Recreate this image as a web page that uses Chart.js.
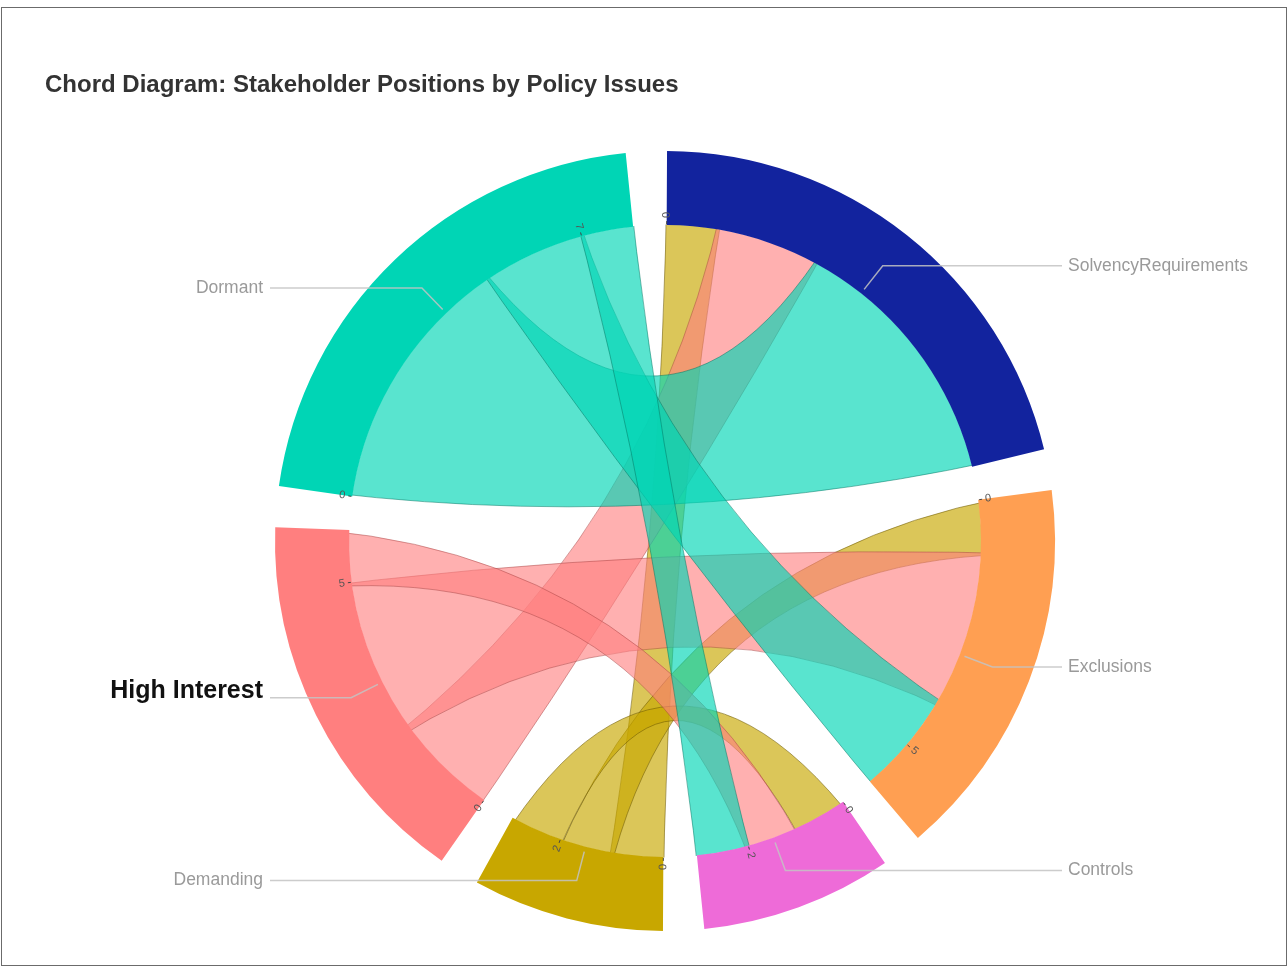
<!DOCTYPE html>
<html>
<head>
<meta charset="utf-8">
<title>Chord Diagram: Stakeholder Positions by Policy Issues</title>
<script src="https://cdn.jsdelivr.net/npm/chart.js@4.4.1/dist/chart.umd.min.js"></script>
<style>
  html, body { margin: 0; padding: 0; background: #fff; }
  canvas { display: block; }
</style>
</head>
<body>
<canvas id="chordChart" width="1288" height="967"></canvas>
<script>
'use strict';

// policy issues (columns) and stakeholder positions (rows)
var issues = ['SolvencyRequirements', 'Exclusions', 'Controls'];
var stakeholders = ['Demanding', 'High Interest', 'Dormant'];

// links per stakeholder, one value per issue
var demanding = [1, 1, 1];
var highInterest = [2, 3, 1];
var dormant = [5, 2, 1];

// tick labels along each arc
var issueTicks = [[0], [0, 5], [0, 2]];
var stakeholderTicks = [[0, 2], [0, 5], [0, 7]];

var issueColors = ['#12239E', '#FF9F52', '#EE6BD8'];
var stakeholderColors = ['#C8A700', '#FF7F7F', '#00D5B5'];
var ribbonFills = ['rgba(200, 167, 0, 0.65)', 'rgba(255, 127, 127, 0.62)', 'rgba(0, 213, 181, 0.65)'];
var ribbonEdges = ['rgba(110, 90, 0, 0.55)', 'rgba(170, 70, 70, 0.5)', 'rgba(0, 120, 100, 0.5)'];

var GAP = 0.64; // empty slice between groups, in link units

var rows = [demanding, highInterest, dormant];
var groupNames = issues.concat(stakeholders);
var groupColors = issueColors.concat(stakeholderColors);
var groupTicks = issueTicks.concat(stakeholderTicks);

// totals per group: issues sum a column, stakeholders sum a row
var totals = issues.map(function (name, j) {
    return rows.reduce(function (s, row) { return s + row[j]; }, 0);
}).concat(rows.map(function (row) {
    return row.reduce(function (s, v) { return s + v; }, 0);
}));

// ring values with a transparent spacer after every group
var ringValues = [], ringColors = [], ringLabels = [];
totals.forEach(function (t, g) {
    ringValues.push(t, GAP);
    ringColors.push(groupColors[g], 'rgba(0,0,0,0)');
    ringLabels.push(groupNames[g], '');
});

function ribbonPath(ctx, cx, cy, r, s0, s1, t0, t1) {
    ctx.beginPath();
    ctx.moveTo(cx + r * Math.cos(s0), cy + r * Math.sin(s0));
    ctx.arc(cx, cy, r, s0, s1);
    ctx.quadraticCurveTo(cx, cy, cx + r * Math.cos(t0), cy + r * Math.sin(t0));
    ctx.arc(cx, cy, r, t0, t1);
    ctx.quadraticCurveTo(cx, cy, cx + r * Math.cos(s0), cy + r * Math.sin(s0));
    ctx.closePath();
}

function groupGeometry(chart) {
    var arcs = chart.getDatasetMeta(0).data;
    var els = groupNames.map(function (n, g) { return arcs[g * 2]; });
    var units = els.map(function (el, g) { return (el.endAngle - el.startAngle) / totals[g]; });
    return { els: els, units: units, cx: els[0].x, cy: els[0].y, inner: els[0].innerRadius, outer: els[0].outerRadius };
}

var chordPlugin = {
    id: 'chordRibbons',
    beforeDraw: function (chart) {
        var ctx = chart.ctx;
        ctx.save();
        ctx.strokeStyle = '#6b6b6b';
        ctx.lineWidth = 1;
        ctx.strokeRect(1.5, 7.5, 1285, 958);
        ctx.fillStyle = '#333';
        ctx.font = 'bold 24px "Liberation Sans", Arial, sans-serif';
        ctx.textBaseline = 'middle';
        ctx.fillText('Chord Diagram: Stakeholder Positions by Policy Issues', 45, 85);
        ctx.restore();
    },
    // ribbons are laid out on the outer radius and cut at the inner edge of the ring
    beforeDatasetsDraw: function (chart) {
        var ctx = chart.ctx;
        var geo = groupGeometry(chart);
        var els = geo.els, units = geo.units;

        var issueOffset = issues.map(function () { return 0; });
        var links = [];
        issues.forEach(function (name, j) {
            rows.forEach(function (row, k) {
                var el = els[j], u = units[j];
                links.push({ k: k, j: j, i0: el.startAngle + issueOffset[j] * u, i1: el.startAngle + (issueOffset[j] + row[j]) * u });
                issueOffset[j] += row[j];
            });
        });
        rows.forEach(function (row, k) {
            var g = issues.length + k, el = els[g], u = units[g], off = 0;
            row.forEach(function (v, j) {
                links.forEach(function (l) {
                    if (l.k === k && l.j === j) {
                        l.s0 = el.startAngle + off * u;
                        l.s1 = el.startAngle + (off + v) * u;
                    }
                });
                off += v;
            });
        });

        ctx.save();
        ctx.beginPath();
        ctx.arc(geo.cx, geo.cy, geo.inner + 0.5, 0, Math.PI * 2);
        ctx.clip();
        links.forEach(function (l) {
            if (l.i1 - l.i0 <= 0) { return; }
            ribbonPath(ctx, geo.cx, geo.cy, geo.outer - 2, l.i0, l.i1, l.s0, l.s1);
            ctx.fillStyle = ribbonFills[l.k];
            ctx.fill();
            ctx.strokeStyle = ribbonEdges[l.k];
            ctx.lineWidth = 1;
            ctx.stroke();
        });
        ctx.restore();
    },
    afterDatasetsDraw: function (chart) {
        var ctx = chart.ctx;
        var geo = groupGeometry(chart);
        var els = geo.els, units = geo.units;
        var cx = geo.cx, cy = geo.cy, r = geo.inner;

        ctx.save();
        // ticks along the inner edge
        ctx.font = '11px "Liberation Sans", Arial, sans-serif';
        ctx.textBaseline = 'middle';
        els.forEach(function (el, g) {
            groupTicks[g].forEach(function (t) {
                var a = el.startAngle + t * units[g];
                var c = Math.cos(a), s = Math.sin(a);
                ctx.strokeStyle = '#444';
                ctx.lineWidth = 1;
                ctx.beginPath();
                ctx.moveTo(cx + c * (r + 1), cy + s * (r + 1));
                ctx.lineTo(cx + c * (r + 4), cy + s * (r + 4));
                ctx.stroke();
                ctx.save();
                ctx.translate(cx + c * (r + 7), cy + s * (r + 7));
                ctx.rotate(a);
                if (c < 0) {
                    ctx.rotate(Math.PI);
                    ctx.textAlign = 'right';
                } else {
                    ctx.textAlign = 'left';
                }
                ctx.fillStyle = '#555';
                ctx.fillText(String(t), 0, 0);
                ctx.restore();
            });
        });

        // group labels with leader lines
        els.forEach(function (el, g) {
            var mid = (el.startAngle + el.endAngle) / 2;
            var c = Math.cos(mid), s = Math.sin(mid);
            var x1 = cx + c * (r + 5), y1 = cy + s * (r + 5);
            var x2 = cx + c * (r + 35), y2 = cy + s * (r + 35);
            var right = c > 0;
            var x3 = right ? 1062 : 270;
            ctx.strokeStyle = 'rgba(195, 195, 195, 0.85)';
            ctx.lineWidth = 1.5;
            ctx.beginPath();
            ctx.moveTo(x1, y1);
            ctx.lineTo(x2, y2);
            ctx.lineTo(x3, y2);
            ctx.stroke();

            var name = groupNames[g];
            var ty = y2;
            if (name === 'High Interest') {
                ctx.font = 'bold 25px "Liberation Sans", Arial, sans-serif';
                ctx.fillStyle = '#111';
                ty = y2 - 7;
            } else {
                ctx.font = '17.5px "Liberation Sans", Arial, sans-serif';
                ctx.fillStyle = '#9a9a9a';
            }
            ctx.textAlign = right ? 'left' : 'right';
            ctx.fillText(name, right ? 1068 : 263, ty);
        });
        ctx.restore();
    }
};

var chordChart = new Chart(document.getElementById('chordChart'), {
    type: 'doughnut',
    data: {
        labels: ringLabels,
        datasets: [{
            data: ringValues,
            backgroundColor: ringColors,
            borderWidth: 0,
            hoverOffset: 0,
            offset: 0
        }]
    },
    options: {
        responsive: false,
        animation: false,
        events: [],
        cutout: '81%',
        rotation: 0.3,
        layout: {
            padding: { left: 275, top: 151, right: 233, bottom: 36 }
        },
        plugins: {
            legend: { display: false },
            tooltip: { enabled: false }
        }
    },
    plugins: [chordPlugin]
});
</script>
</body>
</html>
